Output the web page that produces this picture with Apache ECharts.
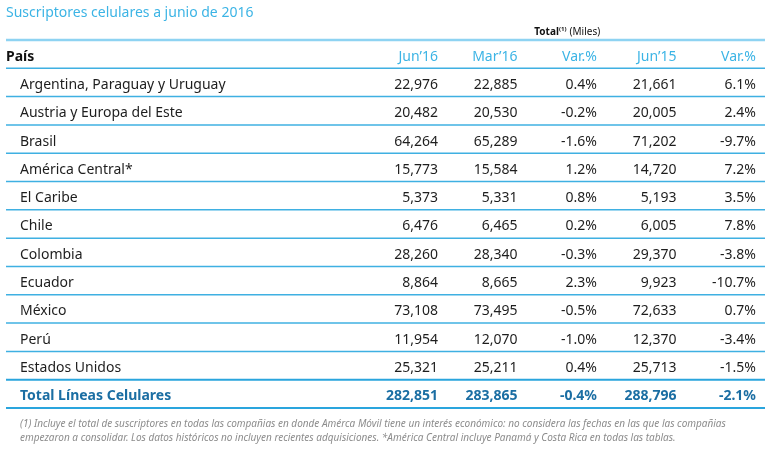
<!DOCTYPE html>
<html><head><meta charset="utf-8">
<script src="https://cdn.jsdelivr.net/npm/echarts@6/dist/echarts.min.js"></script>
<style>html,body{margin:0;padding:0;background:#fff}#c{width:775px;height:453px}</style>
</head><body><div id="c"></div>
<script>
const titleText = 'Suscriptores celulares a junio de 2016';
const headerLabel = 'País';
const columns = ['Jun’16', 'Mar’16', 'Var.%', 'Jun’15', 'Var.%'];
const countries = ['Argentina, Paraguay y Uruguay', 'Austria y Europa del Este', 'Brasil', 'América Central*', 'El Caribe', 'Chile', 'Colombia', 'Ecuador', 'México', 'Perú', 'Estados Unidos', 'Total Líneas Celulares'];
const jun16 = [22976, 20482, 64264, 15773, 5373, 6476, 28260, 8864, 73108, 11954, 25321, 282851];
const mar16 = [22885, 20530, 65289, 15584, 5331, 6465, 28340, 8665, 73495, 12070, 25211, 283865];
const varQ  = [0.4, -0.2, -1.6, 1.2, 0.8, 0.2, -0.3, 2.3, -0.5, -1.0, 0.4, -0.4];
const jun15 = [21661, 20005, 71202, 14720, 5193, 6005, 29370, 9923, 72633, 12370, 25713, 288796];
const varY  = [6.1, 2.4, -9.7, 7.2, 3.5, 7.8, -3.8, -10.7, 0.7, -3.4, -1.5, -2.1];
const footnote = '(1) Incluye el total de suscriptores en todas las compañias en donde Amérca Móvil tiene un interés económico: no considera las fechas en las que las compañias\nempezaron a consolidar. Los datos históricos no incluyen recientes adquisiciones. *América Central incluye Panamá y Costa Rica en todas las tablas.';

const rows = [headerLabel].concat(countries);
const lastRow = rows.length - 1;
const fmtInt = v => v.toLocaleString('en-US');
const fmtPct = v => v.toFixed(1) + '%';
const colVals = [jun16, mar16, varQ, jun15, varY];
const colFmt = [fmtInt, fmtInt, fmtPct, fmtInt, fmtPct];
const cellData = [];
columns.forEach((c, ci) => {
  cellData.push([ci, 0, c]);
  countries.forEach((r, ri) => cellData.push([ci, ri + 1, colFmt[ci](colVals[ci][ri])]));
});
const rowData = rows.map((r, i) => [0, i]);

const FONT = '"Noto Sans", sans-serif';
const BLUE = '#3cb4e5';
const DARK = '#1b6ea3';
const LINE = '#3fb0e2';
const DY = 2.5;

function renderRow(params, api) {
  const ri = api.value(1);
  const p = api.coord([0, ri]);
  const bh = api.size([0, 1])[1];
  const cs = params.coordSys;
  const x0 = cs.x, x1 = cs.x + cs.width;
  const yb = p[1] + bh / 2;
  const children = [];
  const isHeader = ri === 0, isTotal = ri === lastRow;
  children.push({
    type: 'text', x: x0 + (isHeader ? 0 : 14), y: p[1] + DY,
    style: {
      text: rows[ri], align: 'left', verticalAlign: 'middle',
      fill: isHeader ? '#111' : (isTotal ? DARK : '#1e1e1e'),
      font: (isHeader || isTotal ? 'bold ' : '') + '14px ' + FONT
    }
  });
  if (isHeader) {
    children.push({ type: 'line', shape: { x1: x0, y1: p[1] - bh / 2, x2: x1, y2: p[1] - bh / 2 }, style: { stroke: '#8ed3f2', lineWidth: 2.5 } });
  }
  const strong = ri >= lastRow - 1;
  children.push({ type: 'line', shape: { x1: x0, y1: yb, x2: x1, y2: yb }, style: { stroke: strong ? '#2aa5dd' : LINE, lineWidth: strong ? 2 : 1.5 } });
  return { type: 'group', children };
}

function renderCell(params, api) {
  const ci = api.value(0), ri = api.value(1);
  const p = api.coord([ci, ri]);
  const bw = api.size([1, 0])[0];
  const isHeader = ri === 0, isTotal = ri === lastRow;
  return {
    type: 'text', x: p[0] + bw / 2, y: p[1] + DY,
    style: {
      text: cellData[params.dataIndex][2], align: 'right', verticalAlign: 'middle',
      fill: isHeader ? BLUE : (isTotal ? DARK : '#1e1e1e'),
      font: (isTotal ? 'bold ' : '') + '14px ' + FONT
    }
  };
}

const chart = echarts.init(document.getElementById('c'), null, { renderer: 'canvas' });
chart.setOption({
  animation: false,
  textStyle: { fontFamily: FONT },
  title: [
    { text: titleText, left: 6, top: 6, padding: 0, textStyle: { color: BLUE, fontSize: 14, fontWeight: 'normal', fontFamily: FONT } },
    { text: footnote, left: 20, top: 417, padding: 0, textStyle: { color: '#8c8c8c', fontSize: 10, fontStyle: 'italic', fontWeight: 'normal', lineHeight: 14, fontFamily: FONT } }
  ],
  grid: [
    { left: 6, right: 10, top: 40, height: 368 },
    { left: 358.5, right: 19, top: 40, height: 368 }
  ],
  xAxis: [
    { gridIndex: 0, type: 'value', min: 0, max: 1, show: false },
    { gridIndex: 1, type: 'category', data: columns, position: 'top',
      axisLine: { show: false }, axisTick: { show: false }, axisLabel: { show: false }, splitLine: { show: false },
      name: '{b|Total}{s|(1)} {n|(Miles)}', nameLocation: 'middle', nameGap: 2,
      nameTextStyle: { padding: [0, 0, 0, 20], rich: {
        b: { fontSize: 10, fontWeight: 'bold', color: '#111', fontFamily: FONT },
        s: { fontSize: 6, fontWeight: 'bold', color: '#111', verticalAlign: 'top', fontFamily: FONT },
        n: { fontSize: 10, color: '#111', fontFamily: FONT }
      } } }
  ],
  yAxis: [
    { gridIndex: 0, type: 'category', data: rows, inverse: true, show: false },
    { gridIndex: 1, type: 'category', data: rows, inverse: true, show: false }
  ],
  series: [
    { type: 'custom', xAxisIndex: 0, yAxisIndex: 0, data: rowData, renderItem: renderRow, encode: { x: 0, y: 1 }, silent: true },
    { type: 'custom', xAxisIndex: 1, yAxisIndex: 1, data: cellData.map(d => [d[0], d[1]]), renderItem: renderCell, encode: { x: 0, y: 1 }, silent: true }
  ]
});
</script></body></html>
